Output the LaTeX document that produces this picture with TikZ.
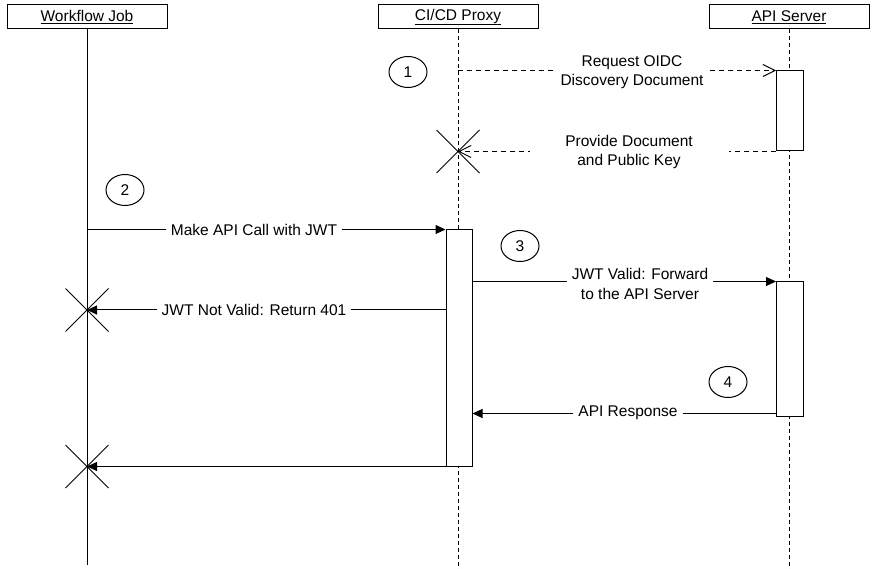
\documentclass[tikz,border=0pt]{standalone}
\usepackage{fontspec}
\setmainfont{Liberation Sans}
\usetikzlibrary{positioning, shapes.geometric, shapes.misc, arrows.meta}
\tikzset{
	every node/.append style={
		font=\fontsize{15.5}{19.5}\selectfont,
	},
	head/.append style={
		draw,
		minimum width=160pt,
		minimum height=24pt,
		inner sep=0pt,
	},
	actbox/.append style={
		draw,
		fill=white,
		minimum width=27pt,
		inner sep=0pt,
	},
	lbl/.append style={
		fill=white,
		align=center,
		inner xsep=5pt,
		inner ysep=1pt,
	},
	stepno/.append style={
		draw,
		ellipse,
		minimum width=38pt,
		minimum height=31pt,
		inner sep=0pt,
	},
	killmark/.append style={
		draw,
		cross out,
		minimum size=42pt,
		inner sep=0pt,
	},
	call/.append style={
		-{Triangle[length=10pt,width=9pt]},
	},
	reply/.append style={
		dash pattern=on 5pt off 4pt,
		-{Straight Barb[length=12pt,width=12pt]},
	},
	lifeline/.append style={
		dash pattern=on 4pt off 3pt,
	},
}

\begin{document}
\begin{tikzpicture}[x=1pt, y=-1pt, line width=1pt]
\useasboundingbox (0,0) rectangle (878,569);

% heads and lifelines
\node(wf)[head] at (87,17) {\underline{Workflow Job}};
\node(px)[head] at (458,17) {\underline{CI/CD Proxy}};
\node(api)[head] at (789,17) {\underline{API Server}};

\coordinate(wfend) at (87,565);
\coordinate(pxend) at (458,569);
\coordinate(apiend) at (789,569);

\draw (wf.south) -- (wfend);
\draw[lifeline] (px.south) -- (pxend);
\draw[lifeline] (api.south) -- (apiend);

% activations
\node(a1)[actbox, minimum height=80pt] at (790,111) {};
\node(p1)[actbox, minimum width=26pt, minimum height=236pt] at (459,348) {};
\node(a2)[actbox, minimum height=134pt] at (790,349) {};

% step numbers
\node(s1)[stepno] at (408,72) {1};
\node(s2)[stepno] at (125,190) {2};
\node(s3)[stepno] at (520,246) {3};
\node(s4)[stepno] at (728,382) {4};

% messages
\draw[reply] (px.south |- a1.north west) -- (a1.north west);
\node(x1)[killmark] at (px.south |- a1.south west) {};
\draw[reply] (a1.south west) -- (x1.center);

\draw[call] (wf.south |- p1.north west) -- (p1.north west);
\draw[call] (p1.east |- a2.north west) -- (a2.north west);
\node(x2)[killmark] at (87,310) {};
\draw[call] (p1.west |- x2) -- (x2.center);
\coordinate(resp) at ([yshift=3pt]a2.south west);
\draw[call] (resp) -- (p1.east |- resp);
\node(x3)[killmark] at (wf.south |- p1.south west) {};
\draw[call] (p1.south west) -- (x3.center);

% labels
\node(l1)[lbl] at (632,72) {Request OIDC\\Discovery Document};
\node(l1b)[lbl, minimum width=199pt] at (629,152) {Provide Document\\and Public Key};
\node(l2)[lbl] at (254,230) {Make API Call with JWT};
\node(l3)[lbl] at (640,284) {JWT Valid: Forward\\to the API Server};
\node(l4)[lbl] at (254,310) {JWT Not Valid: Return 401};
\node(l5)[lbl] at (628,413) {API Response};

\end{tikzpicture}
\end{document}
